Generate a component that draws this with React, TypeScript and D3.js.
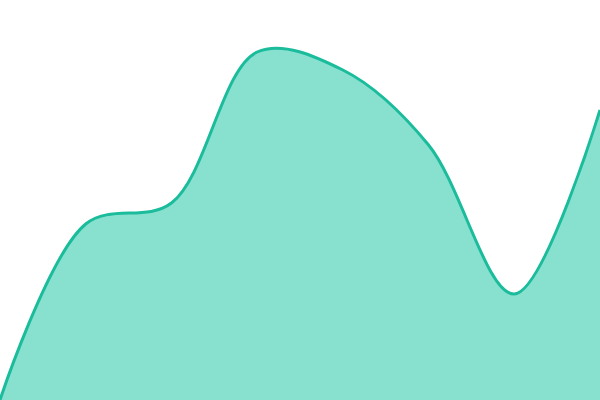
import * as d3 from "d3";

const width = 600;
const height = 400;

// evenly spaced samples, value measured up from the bottom edge
const values = [0, 176, 197, 348, 330, 255, 106, 290];

export default function App() {
  const x = d3.scaleLinear().domain([0, values.length - 1]).range([0, width]);
  const y = d3.scaleLinear().domain([0, 400]).range([height, 0]);

  const area = d3
    .area<number>()
    .x((_, i) => x(i))
    .y0(height)
    .y1((d) => y(d))
    .curve(d3.curveCatmullRom);

  const line = d3
    .line<number>()
    .x((_, i) => x(i))
    .y((d) => y(d))
    .curve(d3.curveCatmullRom);

  return (
    <div style={{ position: "fixed", left: 0, top: 0 }}>
      <svg width={width} height={height} style={{ display: "block" }}>
        <path d={area(values) ?? ""} fill="#88e0cf" />
        <path d={line(values) ?? ""} fill="none" stroke="#1abc9c" strokeWidth={3} />
      </svg>
    </div>
  );
}
